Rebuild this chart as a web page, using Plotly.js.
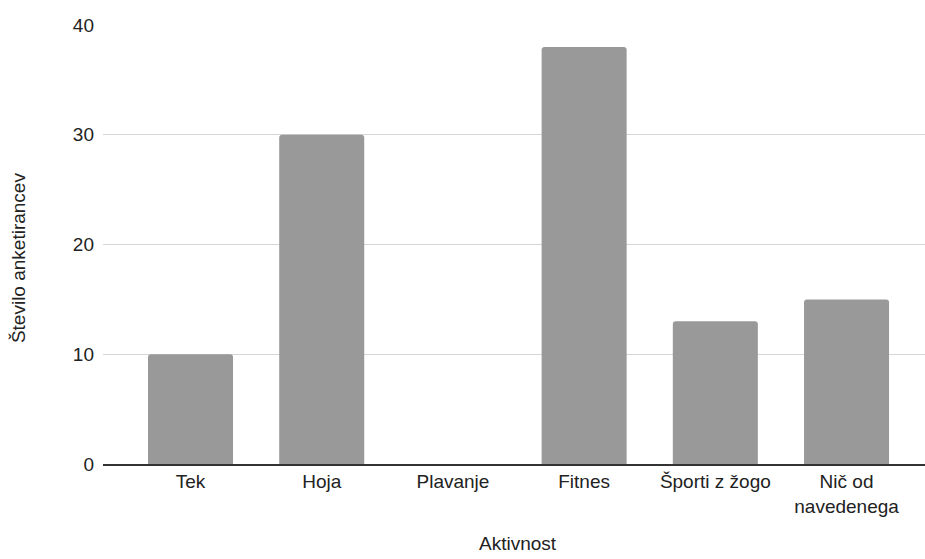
<!DOCTYPE html>
<html>
<head>
<meta charset="utf-8">
<script src="https://cdn.plot.ly/plotly-3.0.1.min.js"></script>
<style>
  html, body { margin: 0; padding: 0; background: #fff; }
  #chart { width: 925px; height: 559px; }
</style>
</head>
<body>
<div id="chart"></div>
<script>
// Survey: number of respondents per activity
const activities = ['Tek', 'Hoja', 'Plavanje', 'Fitnes', 'Športi z žogo', 'Nič od<br>navedenega'];
const respondents = [10, 30, 0, 38, 13, 15];
const yTicks = [0, 10, 20, 30, 40];

const font = { family: '"Liberation Sans", Arial, sans-serif', size: 19, color: '#222' };

const trace = {
  type: 'bar',
  x: activities,
  y: respondents,
  marker: { color: '#999999', cornerradius: 3 },
  hoverinfo: 'x+y'
};

const layout = {
  width: 925,
  height: 559,
  margin: { l: 103, r: 0, t: 25, b: 95 },
  paper_bgcolor: '#ffffff',
  plot_bgcolor: '#ffffff',
  font: font,
  showlegend: false,
  bargap: 0.352,
  xaxis: {
    type: 'category',
    range: [-0.667, 5.598],
    showgrid: false,
    showline: true,
    linecolor: '#333333',
    linewidth: 1.5,
    ticks: '',
    tickfont: font,
    zeroline: false
  },
  yaxis: {
    range: [0, 40],
    tickvals: yTicks,
    ticktext: yTicks.map(String),
    showgrid: true,
    gridcolor: '#d6d6d6',
    gridwidth: 1,
    zeroline: false,
    showline: false,
    ticks: '',
    ticklabelstandoff: 8,
    tickfont: font
  },
  annotations: [
    {
      text: 'Aktivnost',
      xref: 'paper', yref: 'paper',
      x: 0.505, y: -0.18,
      xanchor: 'center', yanchor: 'middle',
      showarrow: false,
      font: font
    },
    {
      text: 'Število anketirancev',
      xref: 'paper', yref: 'paper',
      x: -0.1034, y: 0.469,
      xanchor: 'center', yanchor: 'middle',
      textangle: -90,
      showarrow: false,
      font: font
    }
  ]
};

Plotly.newPlot('chart', [trace], layout, { staticPlot: true, displayModeBar: false });
</script>
</body>
</html>
